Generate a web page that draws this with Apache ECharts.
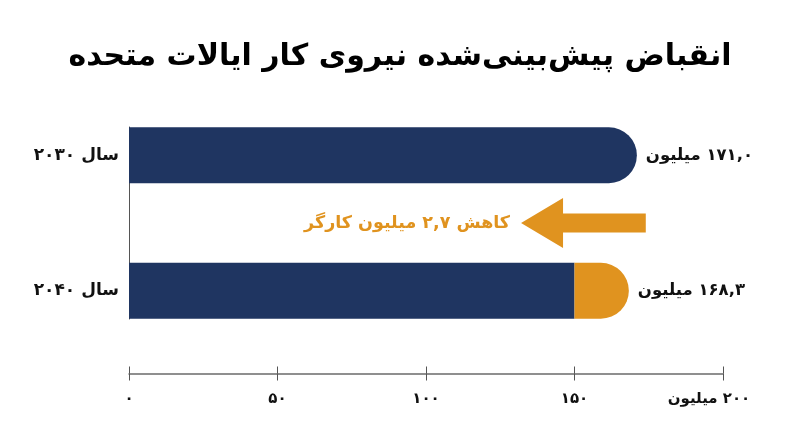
<!DOCTYPE html>
<html>
<head>
<meta charset="utf-8">
<script src="https://cdn.jsdelivr.net/npm/echarts@6/dist/echarts.min.js"></script>
<style>
html,body{margin:0;padding:0;background:#fff;}
#main{width:800px;height:447px;}
</style>
</head>
<body>
<div id="main"></div>
<script>
// ---- data ----
const titleText = 'انقباض پیش‌بینی‌شده نیروی کار ایالات متحده';
const categories = ['سال ۲۰۳۰', 'سال ۲۰۴۰'];
const baseValues = [171.0, 150];      // navy segment
const declineValues = [null, 18.3];   // orange segment (2040)
const valueLabels = ['۱۷۱,۰ میلیون', '۱۶۸,۳ میلیون'];
const tickLabels = ['۰', '۵۰', '۱۰۰', '۱۵۰', '۲۰۰ میلیون'];
const changeText = 'کاهش ۲,۷ میلیون کارگر';
const arrowRange = [174, 132];        // arrow start / tip in axis units

const NAVY = '#1F3561';
const ORANGE = '#E0931F';
const FONT = 'DejaVu Sans';
const rtl = s => '\u202B' + s + '\u202C';

const chart = echarts.init(document.getElementById('main'));

const navyData = baseValues.map((v, i) => ({
  value: v,
  itemStyle: { borderRadius: declineValues[i] == null ? [0, 28, 28, 0] : 0 },
  label: { show: declineValues[i] == null, formatter: rtl(valueLabels[i]) }
}));
const orangeData = declineValues.map((v, i) => v == null ? '-' : ({
  value: v,
  itemStyle: { borderRadius: [0, 28, 28, 0] },
  label: { show: true, formatter: rtl(valueLabels[i]) }
}));

const labelStyle = { position: 'right', distance: 9, fontFamily: FONT, fontWeight: 'bold', fontSize: 16.5, color: '#111' };

chart.setOption({
  animation: false,
  title: {
    text: rtl(titleText), left: 'center', top: 37,
    textStyle: { fontFamily: FONT, fontWeight: 'bold', fontSize: 30, color: '#000' }
  },
  grid: [
    { left: 129, right: 77, top: 87.5, bottom: 88.5 },
    { left: 129, right: 77, top: 127, height: 192 }
  ],
  xAxis: [
    {
      gridIndex: 0, type: 'value', min: 0, max: 200, interval: 50, position: 'bottom', offset: 15,
      axisLine: { show: true, lineStyle: { color: '#6b6b6b', width: 1.5 } },
      axisTick: { show: true, length: 7, lineStyle: { color: '#555', width: 1 } },
      splitLine: { show: false },
      axisLabel: {
        margin: 18, fontFamily: FONT, fontWeight: 'bold', fontSize: 15, color: '#111',
        formatter: (v) => {
          const i = Math.round(v / 50);
          return i === tickLabels.length - 1 ? '{u|' + rtl(tickLabels[i]) + '}' : rtl(tickLabels[i]);
        },
        rich: { u: { fontFamily: FONT, fontWeight: 'bold', fontSize: 15, color: '#111', padding: [0, 28, 0, 0] } }
      }
    },
    {
      gridIndex: 0, type: 'value', min: 0, max: 200, interval: 50, position: 'bottom', offset: 15,
      axisLine: { show: false },
      axisTick: { show: true, inside: true, length: 7, lineStyle: { color: '#555', width: 1 } },
      splitLine: { show: false },
      axisLabel: { show: false }
    },
    { gridIndex: 1, type: 'value', show: false, min: 0, max: 200 }
  ],
  yAxis: [
    {
      gridIndex: 0, type: 'category', data: categories.map(rtl), inverse: true,
      axisLine: { show: false }, axisTick: { show: false },
      axisLabel: { margin: 10, fontFamily: FONT, fontWeight: 'bold', fontSize: 17, color: '#111' }
    },
    {
      gridIndex: 1, type: 'category', data: categories, inverse: true,
      axisLine: { show: true, lineStyle: { color: '#555', width: 1 } },
      axisTick: { show: false }, axisLabel: { show: false }
    }
  ],
  series: [
    {
      type: 'bar', xAxisIndex: 0, yAxisIndex: 0, stack: 'total', barWidth: 56,
      itemStyle: { color: NAVY }, label: labelStyle, data: navyData
    },
    {
      type: 'bar', xAxisIndex: 0, yAxisIndex: 0, stack: 'total', barWidth: 56,
      itemStyle: { color: ORANGE }, label: labelStyle, data: orangeData
    }
  ]
});

// arrow annotation derived from axes
const yA = chart.convertToPixel({ yAxisIndex: 0 }, 0);
const yB = chart.convertToPixel({ yAxisIndex: 0 }, 1);
const midY = (yA + yB) / 2;
const xs = chart.convertToPixel({ xAxisIndex: 0 }, arrowRange[0]);
const xt = chart.convertToPixel({ xAxisIndex: 0 }, arrowRange[1]);
const headLen = 42, headHalf = 25, shaftHalf = 9.5;
chart.setOption({
  graphic: [
    {
      type: 'polygon',
      shape: { points: [
        [xs, midY - shaftHalf], [xt + headLen, midY - shaftHalf], [xt + headLen, midY - headHalf],
        [xt, midY], [xt + headLen, midY + headHalf], [xt + headLen, midY + shaftHalf], [xs, midY + shaftHalf]
      ] },
      style: { fill: ORANGE }
    },
    {
      type: 'text', x: xt - 11, y: midY,
      style: { text: rtl(changeText), align: 'right', verticalAlign: 'middle',
        fontFamily: FONT, fontWeight: 'bold', fontSize: 17.5, fill: ORANGE }
    }
  ]
});
</script>
</body>
</html>
